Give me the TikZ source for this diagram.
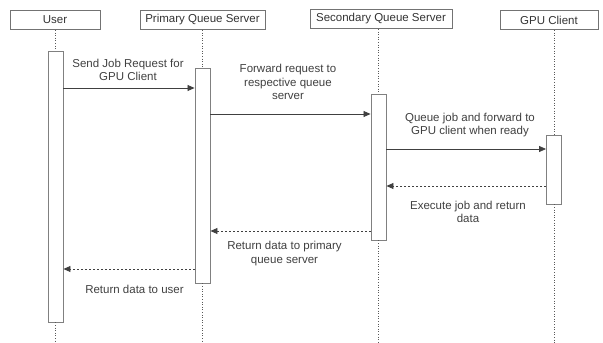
\documentclass[tikz,border=0pt]{standalone}
\usepackage{fontspec}
\setmainfont{Liberation Sans}
\usetikzlibrary{arrows.meta, positioning}

\tikzset{
  actor/.style={draw=black!55, line width=0.8pt, minimum width=#1, minimum height=19pt, inner sep=0pt, text=black!80},
  bar/.style={draw=black!50, fill=white, line width=0.9pt, minimum width=15pt, minimum height=#1, inner sep=0pt},
  life/.style={black!65, line width=0.9pt, dash pattern=on 1pt off 1.6pt},
  msg/.style={draw=black!75, line width=0.8pt, -{Triangle[length=7pt,width=6pt]}},
  reply/.style={msg, dash pattern=on 2pt off 2pt},
  note/.style={align=center, text=black!75}
}

\begin{document}
\begin{tikzpicture}[x=1pt, y=-1pt, font=\fontsize{11.5}{13.5}\selectfont]
    \useasboundingbox (0,0) rectangle (603,343);
    \coordinate (bottom) at (0,343);
    % participants
    \node[actor=90pt] (user) at (55,20) {User};
    \node[actor=125pt] (pqs) at (202.5,20) {Primary Queue Server};
    \node[actor=142pt] (sqs) at (381,19) {Secondary Queue Server};
    \node[actor=98pt] (gpu) at (549,20) {GPU Client};
    % activation bars
    \node[bar=271pt] (actU) at (55.5,186.5) {};
    \node[bar=215pt] (actP) at (202.5,175.5) {};
    \node[bar=146pt] (actS) at (378.5,167) {};
    \node[bar=69pt] (actG) at (554,169.5) {};
    % lifelines
    \draw[life] (actU |- user.south) -- (actU.north);
    \draw[life] (actU.south) -- (actU |- bottom);
    \draw[life] (actP |- pqs.south) -- (actP.north);
    \draw[life] (actP.south) -- (actP |- bottom);
    \draw[life] (actS |- sqs.south) -- (actS.north);
    \draw[life] (actS.south) -- (actS |- bottom);
    \draw[life] (actG |- gpu.south) -- (actG.north);
    \draw[life] (actG.south) -- (actG |- bottom);
    % message levels
    \coordinate (l1) at (0,88);
    \coordinate (l2) at (0,114);
    \coordinate (l3) at (0,149);
    \coordinate (l4) at (0,186);
    \coordinate (l5) at (0,231);
    \coordinate (l6) at (0,269);
    % messages
    \draw[msg] (actU.east |- l1) -- (actP.west |- l1);
    \draw[msg] (actP.east |- l2) -- (actS.west |- l2);
    \draw[msg] (actS.east |- l3) -- (actG.west |- l3);
    \draw[reply] (actG.west |- l4) -- (actS.east |- l4);
    \draw[reply] (actS.west |- l5) -- (actP.east |- l5);
    \draw[reply] (actP.west |- l6) -- (actU.east |- l6);
    % labels
    \node[note] (t1) at (128,70) {Send Job Request for\\GPU Client};
    \node[note] (t2) at (288,82) {Forward request to\\respective queue\\server};
    \node[note] (t3) at (470,125) {Queue job and forward to\\GPU client when ready};
    \node[note] (t4) at (468,212) {Execute job and return\\data};
    \node[note] (t5) at (284.5,253.5) {Return data to primary\\queue server};
    \node[note] (t6) at (134.5,289) {Return data to user};
\end{tikzpicture}
\end{document}
